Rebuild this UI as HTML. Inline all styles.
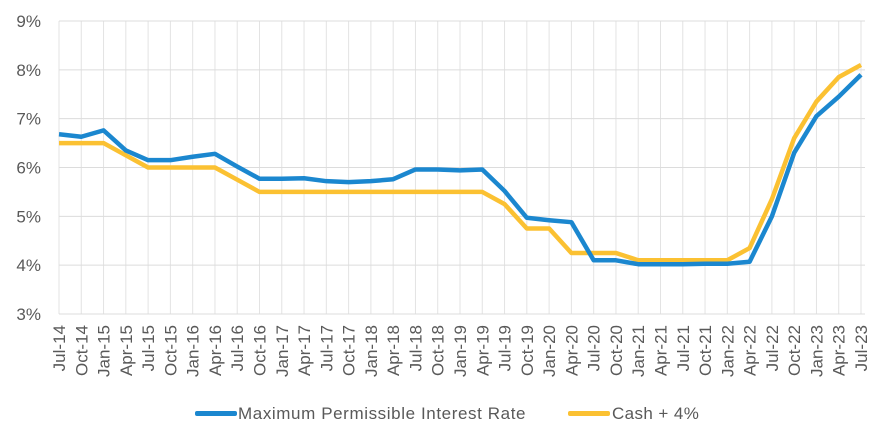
<!DOCTYPE html>
<html><head><meta charset="utf-8"><style>
body{margin:0;background:#fff;font-family:"Liberation Sans",sans-serif;}
svg text{font-family:"Liberation Sans",sans-serif;fill:#595959;}
.lg{position:absolute;font-size:17px;color:#595959;line-height:20px;}
.sw{position:absolute;width:42px;height:5px;border-radius:2px;}
</style></head><body>
<svg id="chart" width="886" height="442"></svg>
<script>
const categories=["Jul-14","Oct-14","Jan-15","Apr-15","Jul-15","Oct-15","Jan-16","Apr-16","Jul-16","Oct-16","Jan-17","Apr-17","Jul-17","Oct-17","Jan-18","Apr-18","Jul-18","Oct-18","Jan-19","Apr-19","Jul-19","Oct-19","Jan-20","Apr-20","Jul-20","Oct-20","Jan-21","Apr-21","Jul-21","Oct-21","Jan-22","Apr-22","Jul-22","Oct-22","Jan-23","Apr-23","Jul-23"];
const maxRate=[6.68,6.63,6.76,6.35,6.15,6.15,6.22,6.28,6.02,5.77,5.77,5.78,5.72,5.70,5.72,5.76,5.96,5.96,5.94,5.96,5.52,4.97,4.92,4.88,4.10,4.10,4.02,4.02,4.02,4.03,4.03,4.07,5.0,6.3,7.05,7.45,7.9];
const cashPlus4=[6.5,6.5,6.5,6.25,6.0,6.0,6.0,6.0,5.75,5.5,5.5,5.5,5.5,5.5,5.5,5.5,5.5,5.5,5.5,5.5,5.25,4.75,4.75,4.25,4.25,4.25,4.1,4.1,4.1,4.1,4.1,4.35,5.35,6.6,7.35,7.85,8.1];
const yTicks=[3,4,5,6,7,8,9];
const NS="http://www.w3.org/2000/svg";
const svg=document.getElementById('chart');
const x0=59,x1=861,yTop=21,yBot=314;
const xs=i=>x0+i*(x1-x0)/(categories.length-1);
const ys=v=>yBot-(v-3)*(yBot-yTop)/6;
function mk(t,a){const e=document.createElementNS(NS,t);for(const k in a)e.setAttribute(k,a[k]);svg.appendChild(e);return e;}
categories.forEach((c,i)=>{
 const g=mk('line',{x1:xs(i),x2:xs(i),y1:yTop,y2:yBot,stroke:'#e3e3e3','stroke-width':1});
 
 
 const t=mk('text',{transform:`translate(${xs(i)+6},325) rotate(-90)`,'text-anchor':'end','font-size':17});
 t.textContent=c;
 
 
});
yTicks.forEach(v=>{
 const g=mk('line',{x1:x0,x2:x1+4,y1:ys(v),y2:ys(v),stroke:'#dcdcdc','stroke-width':1});
 
 
 const t=mk('text',{x:41,y:ys(v)+6,'text-anchor':'end','font-size':17});
 t.textContent=v+'%';
 
 
});
function line(data,color,name){
 const p=mk('polyline',{points:data.map((v,i)=>xs(i)+','+ys(v)).join(' '),fill:'none',stroke:color,'stroke-width':4.5,'stroke-linejoin':'round'});
 
 
}
line(cashPlus4,'#FBC132','cash-plus-4-line');
line(maxRate,'#1B87CF','max-rate-line');
</script>
<div>
 <span class="sw" style="left:195px;top:411px;background:#1B87CF"></span>
 <span class="lg" style="left:238px;top:404px;letter-spacing:0.6px">Maximum Permissible Interest Rate</span>
 <span class="sw" style="left:568px;top:411px;background:#FBC132"></span>
 <span class="lg" style="left:612px;top:404px;letter-spacing:0.4px">Cash + 4%</span>
</div>
</body></html>
